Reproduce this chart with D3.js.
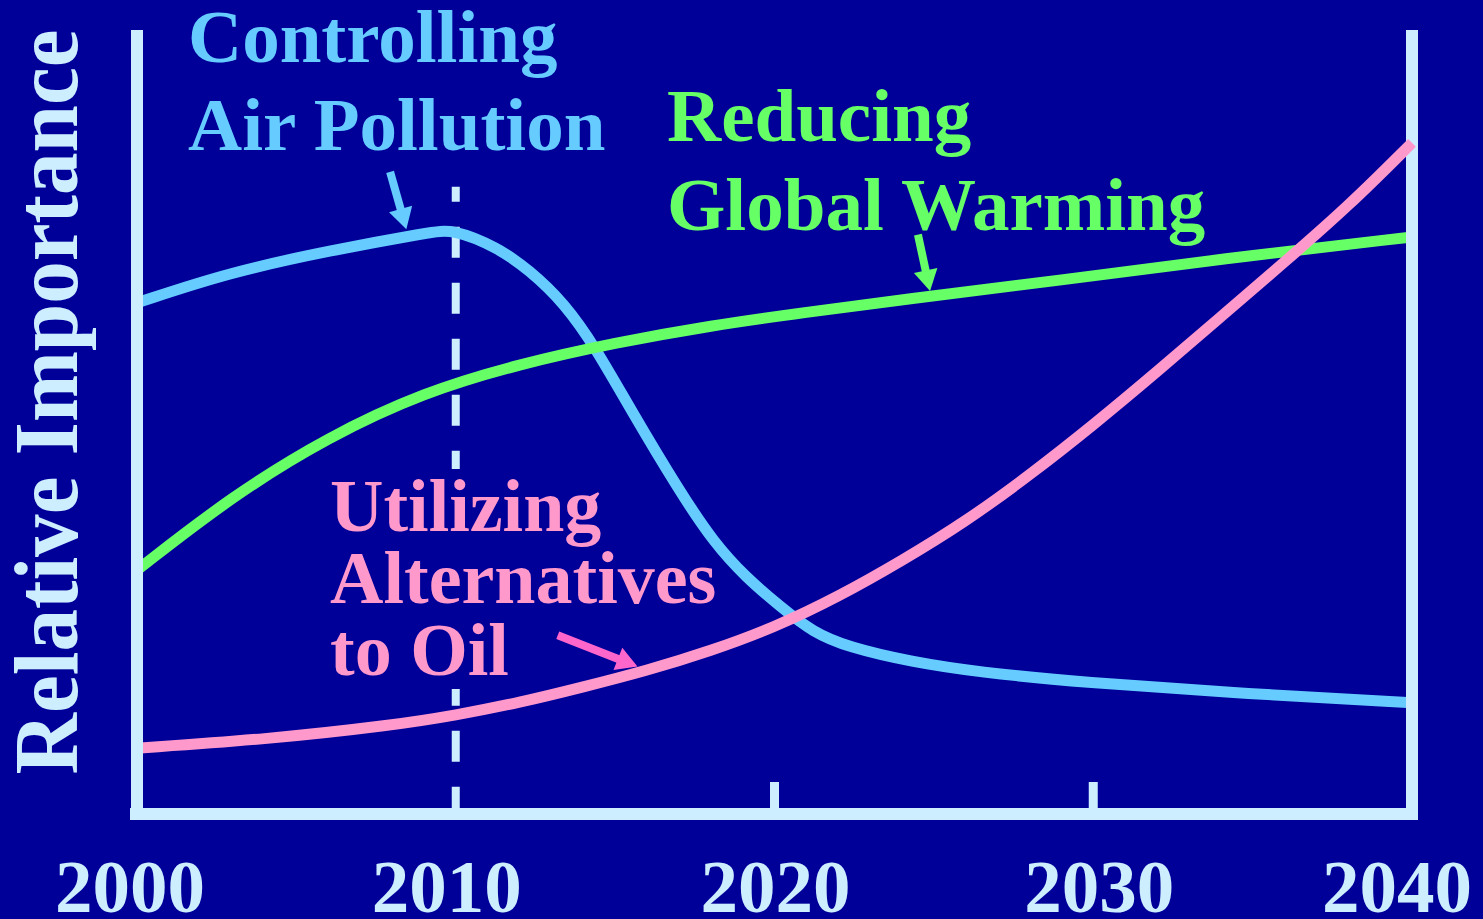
<!DOCTYPE html>
<html>
<head>
<meta charset="utf-8">
<script src="https://cdn.jsdelivr.net/npm/d3@7"></script>
<style>
  html, body { margin: 0; padding: 0; background: #000099; overflow: hidden; }
  text { font-family: "Liberation Serif", "Times New Roman", serif; font-weight: bold; }
</style>
</head>
<body>
<div id="chart"></div>
<script>
// ---- data ----
const xTicks = [2000, 2010, 2020, 2030, 2040];
const xTickLabels = ["2000", "2010", "2020", "2030", "2040"];
const xTickShift = [-7, -9, 1, 6, -15]; // labels are not quite centred on their ticks

// Controlling Air Pollution
const airYears  = [2000, 2002.9, 2006.1, 2009.2, 2009.9, 2011.3, 2012.3, 2013.4, 2014.4, 2015.5, 2017, 2018.1, 2019.1, 2020.2, 2021.2, 2022.3, 2024.3, 2026.4, 2029.6, 2034.9, 2040];
const airValues = [65.2, 69.1, 71.9, 74.2, 74.6, 72.3, 69.4, 65.2, 59.4, 51.5, 41.3, 34.6, 30.2, 26.4, 23.2, 21.3, 19.4, 18.1, 16.8, 15.3, 14.2];

// Reducing Global Warming
const warmYears  = [2000, 2003, 2006, 2009, 2012, 2015, 2018, 2021, 2024, 2029, 2034, 2040];
const warmValues = [31.1, 40.6, 48.1, 53.8, 57.4, 60.1, 62.3, 64.0, 65.6, 68.1, 70.8, 73.6];

// Utilizing Alternatives to Oil
const oilYears  = [2000, 2004, 2008, 2010, 2012, 2014, 2016, 2018, 2020, 2022, 2024, 2026, 2028, 2030, 2032, 2034, 2036, 2038, 2040];
const oilValues = [8.4, 9.5, 11.3, 12.6, 14.2, 16.2, 18.3, 20.8, 23.8, 27.7, 32.3, 37.3, 43.2, 49.6, 56.4, 63.4, 70.4, 77.5, 85.6];

// annotation arrows: [year, value] from -> to
const arrowFrom = [[2007.94, 81.9], [2024.5, 73.9], [2013.2, 22.8]];
const arrowTo   = [[2008.45, 74.6], [2024.88, 66.7], [2015.7, 18.8]];

const dashTop = 80; // top of the dashed 2010 marker (value units)

// ---- layout ----
const W = 1483, H = 919;
const bg = "#000099", axisCol = "#cceeff";
const airCol = "#66ccff", warmCol = "#66ff66", oilCol = "#ff99cc", oilArrowCol = "#ff66cc";

const svg = d3.select("#chart").append("svg")
    .attr("width", W)
    .attr("height", H)
    .style("display", "block");

svg.append("rect").attr("width", W).attr("height", H).attr("fill", bg);

const x = d3.scaleLinear().domain([2000, 2040]).range([137, 1412]);
const y = d3.scaleLinear().domain([0, 100]).range([814, 30]);

const line = d3.line()
    .x(d => x(d[0]))
    .y(d => y(d[1]))
    .curve(d3.curveBasis);

// dashed 2010 marker
svg.append("line")
    .attr("x1", x(2010)).attr("x2", x(2010))
    .attr("y1", y(dashTop)).attr("y2", y(0))
    .attr("stroke", axisCol)
    .attr("stroke-width", 8)
    .attr("stroke-dasharray", "31,25")
    .attr("stroke-dashoffset", 16);

// short ticks for 2020, 2030
svg.append("g")
    .selectAll("line")
    .data(xTicks.filter(t => t === 2020 || t === 2030))
    .join("line")
        .attr("x1", d => x(d)).attr("x2", d => x(d))
        .attr("y1", y(0)).attr("y2", y(0) - 32)
        .attr("stroke", axisCol)
        .attr("stroke-width", 9);

// text box of the pink label hides the dashed line behind it
const oilLabel = svg.append("g");
const oilBox = oilLabel.append("rect").attr("fill", bg);
const oilLines = ["Utilizing", "Alternatives", "to Oil"];
oilLabel.selectAll("text")
    .data(oilLines)
    .join("text")
        .attr("x", 330)
        .attr("y", (d, i) => 531 + i * 72)
        .attr("font-size", 74)
        .attr("fill", oilCol)
        .text(d => d);
const bb = oilLabel.selectAll("text").nodes().map(n => n.getBBox());
oilBox.attr("x", 325).attr("width", 200)
    .attr("y", bb[0].y + 4).attr("height", bb[2].y + bb[2].height - bb[0].y - 6);

// curves under the right frame
svg.append("path")
    .datum(airYears.map((d, i) => [d, airValues[i]]))
    .attr("d", line)
    .attr("fill", "none")
    .attr("stroke", airCol)
    .attr("stroke-width", 11);

svg.append("path")
    .datum(warmYears.map((d, i) => [d, warmValues[i]]))
    .attr("d", line)
    .attr("fill", "none")
    .attr("stroke", warmCol)
    .attr("stroke-width", 11);

// right frame
svg.append("line")
    .attr("x1", x(2040)).attr("x2", x(2040))
    .attr("y1", y(100)).attr("y2", y(0) + 6)
    .attr("stroke", axisCol).attr("stroke-width", 12);

// pink curve goes over the right frame
svg.append("path")
    .datum(oilYears.map((d, i) => [d, oilValues[i]]))
    .attr("d", line)
    .attr("fill", "none")
    .attr("stroke", oilCol)
    .attr("stroke-width", 11);

// left + bottom frame
svg.append("line")
    .attr("x1", x(2000)).attr("x2", x(2000))
    .attr("y1", y(100)).attr("y2", y(0) + 6)
    .attr("stroke", axisCol).attr("stroke-width", 12);
svg.append("line")
    .attr("x1", x(2000) - 7).attr("x2", x(2040) + 6)
    .attr("y1", y(0)).attr("y2", y(0))
    .attr("stroke", axisCol).attr("stroke-width", 12);

// tick labels
svg.append("g")
    .selectAll("text")
    .data(xTicks)
    .join("text")
        .attr("x", (d, i) => x(d) + xTickShift[i])
        .attr("y", 912)
        .attr("text-anchor", "middle")
        .attr("font-size", 75)
        .attr("fill", axisCol)
        .text((d, i) => xTickLabels[i]);

// y axis title
svg.append("text")
    .attr("transform", "translate(77,402) rotate(-90)")
    .attr("text-anchor", "middle")
    .attr("font-size", 92)
    .attr("textLength", 745)
    .attr("lengthAdjust", "spacingAndGlyphs")
    .attr("fill", axisCol)
    .text("Relative Importance");

// series labels
svg.append("g")
    .selectAll("text")
    .data(["Controlling", "Air Pollution"])
    .join("text")
        .attr("x", 188)
        .attr("y", (d, i) => 62 + i * 88)
        .attr("font-size", 75)
        .attr("fill", airCol)
        .text(d => d);

svg.append("g")
    .selectAll("text")
    .data(["Reducing", "Global Warming"])
    .join("text")
        .attr("x", 667)
        .attr("y", (d, i) => 141 + i * 89)
        .attr("font-size", 75)
        .attr("fill", warmCol)
        .text(d => d);

// arrows
const arrowCols = [airCol, warmCol, oilArrowCol];
arrowFrom.forEach((f, i) => {
    const x1 = x(f[0]), y1 = y(f[1]);
    const x2 = x(arrowTo[i][0]), y2 = y(arrowTo[i][1]);
    const ang = Math.atan2(y2 - y1, x2 - x1);
    const headLen = 21, headW = 24;
    const bx = x2 - headLen * Math.cos(ang), by = y2 - headLen * Math.sin(ang);
    const px = -Math.sin(ang) * headW / 2, py = Math.cos(ang) * headW / 2;
    svg.append("line")
        .attr("x1", x1).attr("y1", y1)
        .attr("x2", bx + Math.cos(ang)).attr("y2", by + Math.sin(ang))
        .attr("stroke", arrowCols[i])
        .attr("stroke-width", 8);
    svg.append("path")
        .attr("d", `M${x2},${y2}L${bx + px},${by + py}L${bx - px},${by - py}Z`)
        .attr("fill", arrowCols[i]);
});
</script>
</body>
</html>
